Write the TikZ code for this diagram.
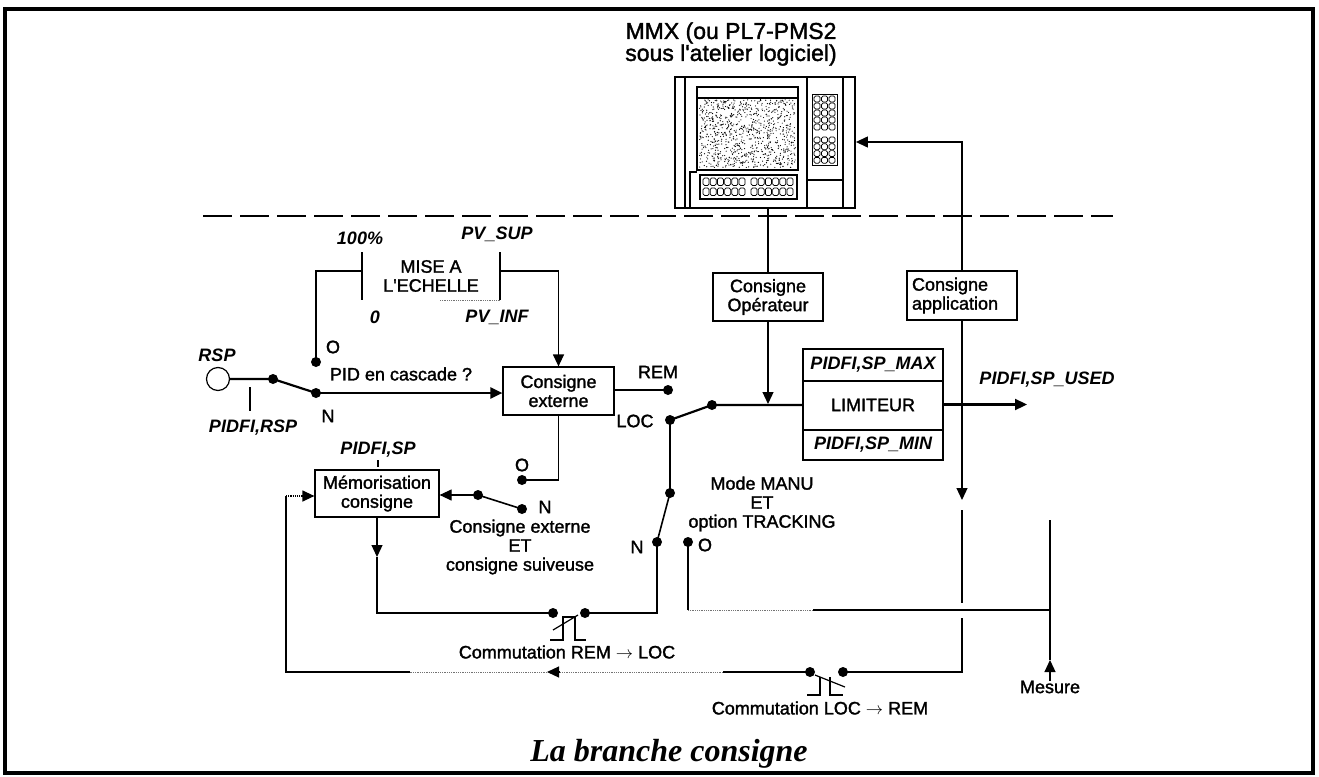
\documentclass[tikz,border=0pt]{standalone}
\usepackage{fontspec}
\setmainfont{Liberation Sans}
\newfontfamily\inkfont{Liberation Sans}[FakeBold=1.6]
\newfontfamily\titlefont{Liberation Serif}
\usetikzlibrary{arrows.meta,calc}

\begin{document}
\begin{tikzpicture}[x=1pt,y=-1pt,
  txt/.style={font=\inkfont\fontsize{18}{19}\selectfont, inner sep=0pt, align=center},
  bi/.style={txt, font=\fontsize{18}{19}\selectfont\bfseries\itshape},
  box/.style={draw, line width=1.2pt, txt},
  dotc/.style={circle, fill, inner sep=0pt, minimum size=10pt},
  sig/.style={line width=2.2pt},
  lever/.style={line width=1.6pt},
  wire/.style={line width=1.2pt},
  faint/.style={line width=0.8pt, densely dotted, black!55},
  tip/.style={-{Triangle[length=12pt,width=11pt]}},
  key/.style={draw, line width=0.7pt, rounded corners=1.5pt}
]
\useasboundingbox (0,0) rectangle (1319,776);

% frame and separator
\draw[line width=4pt] (5,9) rectangle (1313,773);
\draw[line width=2.5pt, dash pattern=on 29pt off 8pt] (203,216) -- (1113,216);

% ---------- operator terminal ----------
\node[font=\inkfont\fontsize{23}{22}\selectfont, align=center, inner sep=0pt] (mmxlbl) at (731,44)
  {MMX (ou PL7-PMS2\\sous l'atelier logiciel)};
\node[draw, line width=1.8pt, minimum width=180pt, minimum height=131pt, inner sep=0pt] (mmx) at (765,142.5) {};
\draw[line width=1.2pt] (685,77) -- (685,208);
\draw[line width=1.4pt] (697,87) rectangle (798,170);
\draw[line width=1.2pt] (697,98) -- (798,98);
\pgfmathsetseed{7}
\foreach \i in {1,...,900}
  \fill (699.5+96*rnd, 99.5+68*rnd) circle (0.6pt);
\draw[line width=1.2pt] (690,208) -- (690,172) -- (697,172);
\draw[line width=1.2pt] (700,175) rectangle (797,199);
\foreach \gx in {703,751}
  \foreach \i in {0,...,5}
    \foreach \gy in {178,188}
      \draw[key] (\gx+\i*7.2,\gy) rectangle ++(6,7.5);
\draw[line width=1.2pt] (807,77) -- (807,208);
\draw[line width=1.2pt] (843,77) -- (843,208);
\draw[line width=1.2pt] (807,180) -- (843,180);
\draw[line width=1pt] (812,94) rectangle (837,165);
\foreach \c in {0,1,2}{
  \foreach \r in {0,...,4}
    \draw[key] (814+\c*7.5,96+\r*7) rectangle ++(6,6);
  \foreach \r in {0,...,3}
    \draw[key] (814+\c*7.5,137+\r*6.8) rectangle ++(6,5.8);
}

% ---------- boxes ----------
\node[box, minimum width=110pt, minimum height=48pt] (copr) at (768,297) {Consigne\\Opérateur};
\node[box, minimum width=110pt, minimum height=49pt, text width=100pt, align=left] (capp) at (962,295.5) {Consigne\\application};
\node[box, minimum width=111pt, minimum height=48pt] (cext) at (558.5,391) {Consigne\\externe};
\node[box, minimum width=124pt, minimum height=47pt] (memo) at (377,493.5) {Mémorisation\\consigne};

% limiter block
\node[draw, line width=1.2pt, minimum width=140pt, minimum height=111pt, inner sep=0pt] (lim) at (873,404.5) {};
\draw[line width=1.2pt] (803,381) -- (943,381);
\draw[line width=1.2pt] (803,430) -- (943,430);
\node[bi] (lmax) at (873,365) {PIDFI,SP\_MAX};
\node[txt] (llim) at (873,405) {LIMITEUR};
\node[bi] (lmin) at (873,445) {PIDFI,SP\_MIN};

% scaling block
\node[txt] (mise) at (431,276) {MISE A\\L'ECHELLE};
\coordinate (mL1) at (362,252); \coordinate (mL2) at (362,300);
\coordinate (mR1) at (500,252); \coordinate (mR2) at (500,300);
\coordinate (mB) at (440,300);
\draw[lever] (mL1) -- (mL2);
\draw[lever] (mR1) -- (mR2);
\draw[faint] (mB) -- (mR2);

% RSP input
\node[circle, draw, line width=1.2pt, minimum size=23pt, inner sep=0pt] (rsp) at (218,379) {};

% contacts
\node[dotc] (dR1) at (273,379) {};
\node[dotc] (dO1) at (316,362) {};
\node[dotc] (dN1) at (316,393) {};
\node[dotc] (dO3) at (522,480) {};
\node[dotc] (dPiv3) at (478,495) {};
\node[dotc] (dN3) at (522,509) {};
\node[dotc] (dREM) at (668,390) {};
\node[dotc] (dLOC) at (670,420) {};
\node[dotc] (dPiv1) at (712,405) {};
\node[dotc] (dPiv2) at (670,493) {};
\node[dotc] (dN2) at (657,542) {};
\node[dotc] (dO2) at (688,542) {};
\node[dotc] (dRL1) at (553,613) {};
\node[dotc] (dRL2) at (585,613) {};
\node[dotc] (dLR1) at (810,672) {};
\node[dotc] (dLR2) at (843,672) {};

% ---------- connections ----------
\coordinate (mLj) at (362,271); \coordinate (mLc) at (316,271);
\coordinate (mRj) at (500,271); \coordinate (mRc) at (558.5,271);
\draw[wire] (mLj) -- (mLc) -- (dO1.center);
\draw[wire, tip] (mRj) -- (mRc) -- (cext.north);

\draw[sig] (rsp.east) -- (dR1.center) -- (dN1.center);
\draw[sig, tip] (dN1.center) -- (cext.west |- dN1);
\coordinate (rtA) at (250,387); \coordinate (rtB) at (250,411);
\draw[wire] (rtA) -- (rtB);

\coordinate (ceD) at (558.5,480);
\draw[wire] (cext.south) -- (ceD) -- (dO3.center);
\draw[lever] (dPiv3.center) -- (dN3.center);
\draw[wire, tip] (dPiv3.center) -- (memo.east |- dPiv3);
\coordinate (spA) at (378,460); \coordinate (spB) at (378,467);
\draw[wire] (spA) -- (spB);

\draw[sig] (cext.east |- dREM) -- (dREM.center);
\draw[sig] (dLOC.center) -- (dPiv1.center) -- (lim.west |- dPiv1);
\draw[lever] (dLOC.center) -- (dPiv2.center) -- (dN2.center);

\coordinate (jop) at (768,404);
\draw[wire] (mmx.south -| copr.north) -- (copr.north);
\draw[wire, tip] (copr.south) -- (jop);

\coordinate (spu) at (1027,404.5);
\draw[sig, tip] (lim.east) -- (spu);

% application setpoint
\coordinate (appTop) at (962,142);
\draw[wire, tip] (capp.north) -- (appTop) -- (mmx.east |- appTop);
\coordinate (appArr) at (962,500);
\coordinate (appC) at (962,510);
\coordinate (hopA) at (962,603);
\coordinate (hopB) at (962,618);
\coordinate (lrR) at (962,672);
\draw[wire, tip] (capp.south) -- (appArr);
\draw[wire] (appC) -- (hopA);
\draw[wire] (hopB) -- (lrR) -- (dLR2.center);

% measurement
\node[txt] (mes) at (1050,687) {Mesure};
\coordinate (mesTip) at (1050,660);
\coordinate (mesTop) at (1050,520);
\coordinate (mesJ) at (1050,610);
\coordinate (oDown) at (688,610);
\coordinate (fadeA) at (813,610);
\draw[wire, tip] (mes.north) -- (mesTip);
\draw[wire] (mesTip) -- (mesTop);
\draw[wire] (dO2.center) -- (oDown);
\draw[faint] (oDown) -- (fadeA);
\draw[wire] (fadeA) -- (mesJ);

% memorised setpoint path
\coordinate (mArr) at (377,557);
\coordinate (mC) at (377,613);
\coordinate (rlR) at (657,613);
\draw[wire, tip] (memo.south) -- (mArr);
\draw[wire] (mArr) -- (mC) -- (dRL1.center);
\draw[wire] (dRL2.center) -- (rlR) -- (dN2.center);

% feedback loop
\coordinate (fb1) at (723,672);
\coordinate (arrL) at (547,672);
\coordinate (arrLb) at (559,672);
\coordinate (fb2) at (410,672);
\coordinate (fbC) at (286,672);
\coordinate (fbU) at (286,496);
\draw[wire] (dLR1.center) -- (fb1);
\draw[faint] (fb1) -- (arrLb);
\draw[wire, tip] (arrLb) -- (arrL);
\draw[faint] (arrL) -- (fb2);
\draw[wire] (fb2) -- (fbC) -- (fbU);
\draw[wire, densely dotted, tip] (fbU) -- (memo.west |- fbU);

% hysteresis symbols
\draw[line width=1.2pt] (550,640) -- (563,640) -- (563,617) -- (575,617) -- (575,640) -- (586,640);
\draw[line width=1.2pt] (553,630) -- (578,615);
\draw[line width=1.2pt] (807,695) -- (820,695) -- (820,677);
\draw[line width=1.2pt] (830,677) -- (830,695) -- (843,695);
\draw[line width=1.2pt] (815,675) -- (845,687);

% ---------- labels ----------
\node[bi] (l100) at (360,238) {100\%};
\node[bi] (lpvs) at (497,234) {PV\_SUP};
\node[bi] (l0) at (375,317) {0};
\node[bi] (lpvi) at (497,317) {PV\_INF};
\node[bi] (lrsp) at (217,355) {RSP};
\node[bi] (lprsp) at (253,428) {PIDFI,RSP};
\node[txt] (lO1) at (333,347) {O};
\node[txt] (lN1) at (328,416) {N};
\node[txt] (lcasc) at (401,374) {PID en cascade ?};
\node[bi] (lpsp) at (378,450) {PIDFI,SP};
\node[txt] (lO3) at (522,465) {O};
\node[txt] (lN3) at (545,507) {N};
\node[txt] (lcs) at (520,547) {Consigne externe\\ET\\consigne suiveuse};
\node[txt] (lrem) at (658,372) {REM};
\node[txt] (lloc) at (635,421) {LOC};
\node[txt] (lmode) at (762,504) {Mode MANU\\ET\\option TRACKING};
\node[txt] (lN2) at (637,547) {N};
\node[txt] (lO2) at (705,545) {O};
\node[txt] (lcrl) at (567,652) {Commutation REM $\rightarrow$ LOC};
\node[txt] (lclr) at (820,708) {Commutation LOC $\rightarrow$ REM};
\node[bi] (lspu) at (1047,380) {PIDFI,SP\_USED};

\node[font=\titlefont\fontsize{32}{34}\selectfont\bfseries\itshape, inner sep=0pt] (title) at (669,754) {La branche consigne};
\end{tikzpicture}
\end{document}
